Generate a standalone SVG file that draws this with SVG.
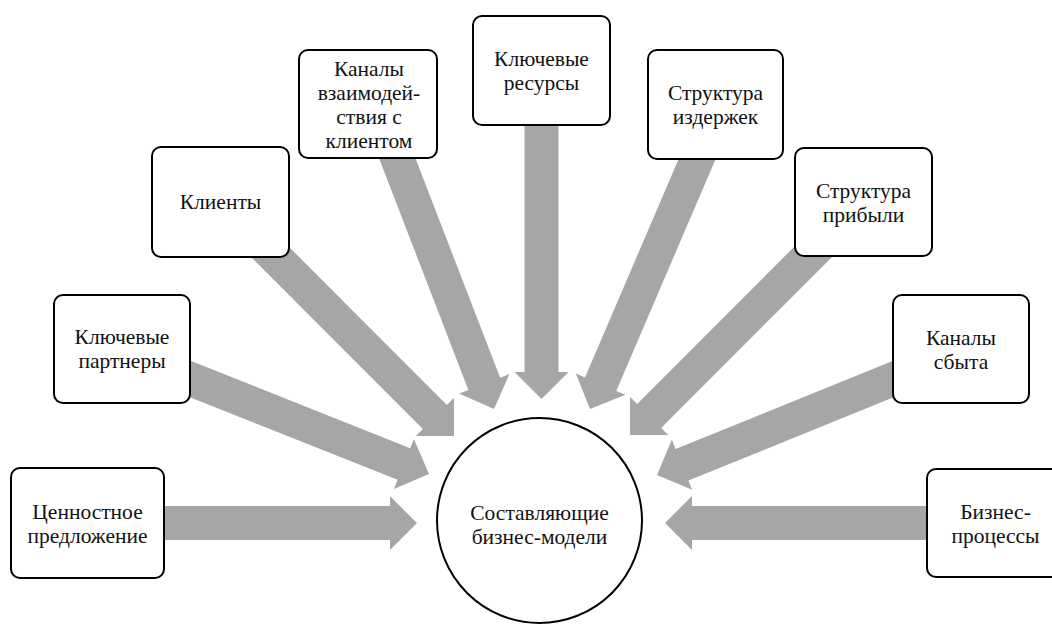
<svg xmlns="http://www.w3.org/2000/svg" width="1052" height="624" viewBox="0 0 1052 624">
<style>
.arrow{fill:#a6a6a6;stroke:none}
.box{fill:#ffffff;stroke:#000000;stroke-width:2}
.hub{fill:#ffffff;stroke:#000000;stroke-width:2}
text{font-family:'Liberation Serif','DejaVu Serif',serif;font-size:21.5px;fill:#111111;text-anchor:middle}
</style>
<rect x="0" y="0" width="1052" height="624" fill="#ffffff"/>
<g id="connectors">
<polygon class="arrow" transform="translate(417,523) rotate(0)" points="0,0 -27,-27 -27,-17 -267,-17 -267,17 -27,17 -27,27"/>
<polygon class="arrow" transform="translate(429,474) rotate(21.7)" points="0,0 -27,-27 -27,-17 -277,-17 -277,17 -27,17 -27,27"/>
<polygon class="arrow" transform="translate(454,436) rotate(45)" points="0,0 -27,-27 -27,-17 -274,-17 -274,17 -27,17 -27,27"/>
<polygon class="arrow" transform="translate(494,409) rotate(68.9)" points="0,0 -27,-27 -27,-17 -289,-17 -289,17 -27,17 -27,27"/>
<polygon class="arrow" transform="translate(541.5,399) rotate(90)" points="0,0 -27,-27 -27,-17 -289,-17 -289,17 -27,17 -27,27"/>
<polygon class="arrow" transform="translate(590,409) rotate(113.2)" points="0,0 -27,-27 -27,-17 -287,-17 -287,17 -27,17 -27,27"/>
<polygon class="arrow" transform="translate(630,435) rotate(135)" points="0,0 -27,-27 -27,-17 -281,-17 -281,17 -27,17 -27,27"/>
<polygon class="arrow" transform="translate(657,475) rotate(157.9)" points="0,0 -27,-27 -27,-17 -275,-17 -275,17 -27,17 -27,27"/>
<polygon class="arrow" transform="translate(665,523) rotate(180)" points="0,0 -27,-27 -27,-17 -275,-17 -275,17 -27,17 -27,27"/>
</g>
<g font-family="Liberation Serif, DejaVu Serif, serif">
<g id="node-hub">
<circle class="hub" cx="539.5" cy="520.5" r="102.5"/>
<text x="539.5" y="519.5">Составляющие</text>
<text x="539.5" y="543.5">бизнес-модели</text>
</g>
<g id="node-value">
<rect class="box" x="11" y="468" width="153" height="110" rx="9"/>
<text x="87.5" y="519">Ценностное</text>
<text x="87.5" y="543">предложение</text>
</g>
<g id="node-partners">
<rect class="box" x="54" y="295" width="136" height="108" rx="9"/>
<text x="122" y="344">Ключевые</text>
<text x="122" y="368">партнеры</text>
</g>
<g id="node-clients">
<rect class="box" x="152" y="147" width="137" height="110" rx="9"/>
<text x="220.5" y="209">Клиенты</text>
</g>
<g id="node-channels">
<rect class="box" x="299" y="50" width="138" height="108" rx="9"/>
<text x="369" y="76">Каналы</text>
<text x="369" y="100">взаимодей-</text>
<text x="369" y="124">ствия с</text>
<text x="369" y="148">клиентом</text>
</g>
<g id="node-resources">
<rect class="box" x="473" y="16" width="137" height="109" rx="9"/>
<text x="541.5" y="66">Ключевые</text>
<text x="541.5" y="90">ресурсы</text>
</g>
<g id="node-costs">
<rect class="box" x="648" y="50" width="135" height="109" rx="9"/>
<text x="715.5" y="99.5">Структура</text>
<text x="715.5" y="123.5">издержек</text>
</g>
<g id="node-revenue">
<rect class="box" x="795" y="148" width="137" height="108" rx="9"/>
<text x="863.5" y="197.5">Структура</text>
<text x="863.5" y="221.5">прибыли</text>
</g>
<g id="node-sales">
<rect class="box" x="893" y="295" width="136" height="108" rx="9"/>
<text x="961" y="345">Каналы</text>
<text x="961" y="369">сбыта</text>
</g>
<g id="node-processes">
<rect class="box" x="927" y="469" width="137" height="108" rx="9"/>
<text x="995.5" y="518.5">Бизнес-</text>
<text x="995.5" y="542.5">процессы</text>
</g>
</g>
</svg>
